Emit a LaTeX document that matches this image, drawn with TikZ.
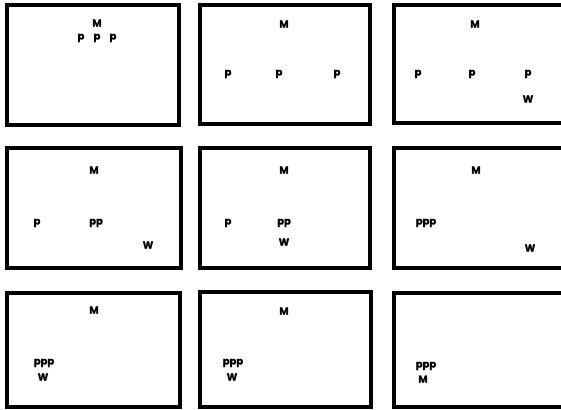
\documentclass[tikz,border=0pt]{standalone}
\usepackage{fontspec}
\setsansfont{Poppins}[BoldFeatures={FakeBold=1.2}]
\begin{document}
\begin{tikzpicture}[x=1pt,y=-1pt,
  panel/.style={draw=black,line width=3.2pt},
  lbl/.style={font=\sffamily\bfseries\fontsize{10}{10}\selectfont,inner sep=0pt,anchor=center}]
\useasboundingbox (0,0) rectangle (561,409);
% panels
\draw[panel] (7,5) rectangle (179,125);
\draw[panel] (200,5) rectangle (370,124);
\draw[panel] (394,5) rectangle (565,123);
\draw[panel] (7,148) rectangle (181,268);
\draw[panel] (200,148) rectangle (370,268);
\draw[panel] (394,148) rectangle (565,268);
\draw[panel] (7,293) rectangle (180,407);
\draw[panel] (200,292) rectangle (371,407);
\draw[panel] (394,293) rectangle (565,407);
% panel 1
\node[lbl] (m1) at (97,23) {M};
\node[lbl] (p1a) at (81,38) {p};
\node[lbl] (p1b) at (97,38) {p};
\node[lbl] (p1c) at (113,38) {p};
% panel 2
\node[lbl] (m2) at (284,24) {M};
\node[lbl] (p2a) at (228,74) {p};
\node[lbl] (p2b) at (279,74) {p};
\node[lbl] (p2c) at (337,74) {p};
% panel 3
\node[lbl] (m3) at (475,24) {M};
\node[lbl] (p3a) at (418,74) {p};
\node[lbl] (p3b) at (472,74) {p};
\node[lbl] (p3c) at (528,74) {p};
\node[lbl] (w3) at (528,99) {W};
% panel 4
\node[lbl] (m4) at (94,170) {M};
\node[lbl] (p4a) at (37,223) {p};
\node[lbl] (p4b) at (96,223) {pp};
\node[lbl] (w4) at (148,245) {W};
% panel 5
\node[lbl] (m5) at (284,170) {M};
\node[lbl] (p5a) at (228,223) {p};
\node[lbl] (p5b) at (284,223) {pp};
\node[lbl] (w5) at (284,242) {W};
% panel 6
\node[lbl] (m6) at (476,170) {M};
\node[lbl] (p6) at (426,223) {ppp};
\node[lbl] (w6) at (530,248) {W};
% panel 7
\node[lbl] (m7) at (94,310) {M};
\node[lbl] (p7) at (44,363) {ppp};
\node[lbl] (w7) at (43,377) {W};
% panel 8
\node[lbl] (m8) at (284,311) {M};
\node[lbl] (p8) at (233,363) {ppp};
\node[lbl] (w8) at (232,377) {W};
% panel 9
\node[lbl] (p9) at (426,366) {ppp};
\node[lbl] (m9) at (423,379) {M};
\end{tikzpicture}
\end{document}
